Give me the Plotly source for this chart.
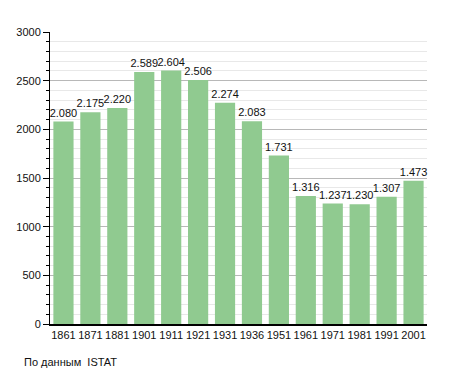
import plotly.graph_objects as go

years = ["1861", "1871", "1881", "1901", "1911", "1921", "1931", "1936",
         "1951", "1961", "1971", "1981", "1991", "2001"]
population = [2080, 2175, 2220, 2589, 2604, 2506, 2274, 2083,
              1731, 1316, 1237, 1230, 1307, 1473]
labels = [f"{v:,}".replace(",", ".") for v in population]
y_ticks = [0, 500, 1000, 1500, 2000, 2500, 3000]

L, R, T, B = 42, 36, 24, 57
W, H = 455, 373
pw, ph = W - L - R, H - T - B

fig = go.Figure(go.Bar(
    x=years, y=population, text=labels, textposition="outside",
    constraintext="none",
    textfont=dict(size=11, color="#111"), cliponaxis=False,
    marker=dict(color="#90ca90", line=dict(width=0)),
))

fig.update_layout(
    width=W, height=H,
    margin=dict(l=L, r=R, t=T, b=B),
    paper_bgcolor="white", plot_bgcolor="white",
    font=dict(family="Liberation Sans, Arial, sans-serif", size=11, color="#111"),
    bargap=0.25, showlegend=False,
    xaxis=dict(type="category", showline=True, linecolor="black", linewidth=1.5,
               ticks="", tickfont=dict(size=11), showgrid=False, automargin=False),
    yaxis=dict(range=[0, 3000], tickvals=y_ticks, showline=True, linecolor="black",
               linewidth=1, ticks="outside", ticklen=6, tickcolor="black",
               gridcolor="#b8b8b8", gridwidth=1, zeroline=False, automargin=False,
               tickfont=dict(size=11),
               minor=dict(dtick=100, ticks="outside", ticklen=3, tickcolor="black",
                          showgrid=True, gridcolor="#e8e8e8", gridwidth=1)),
    annotations=[dict(text="По данным  ISTAT", xref="paper", yref="paper",
                      x=(14 - L) / pw, y=-(354 - (H - B)) / ph,
                      showarrow=False, xanchor="left", yanchor="middle",
                      font=dict(size=11))],
)
fig.write_html("out.html")
